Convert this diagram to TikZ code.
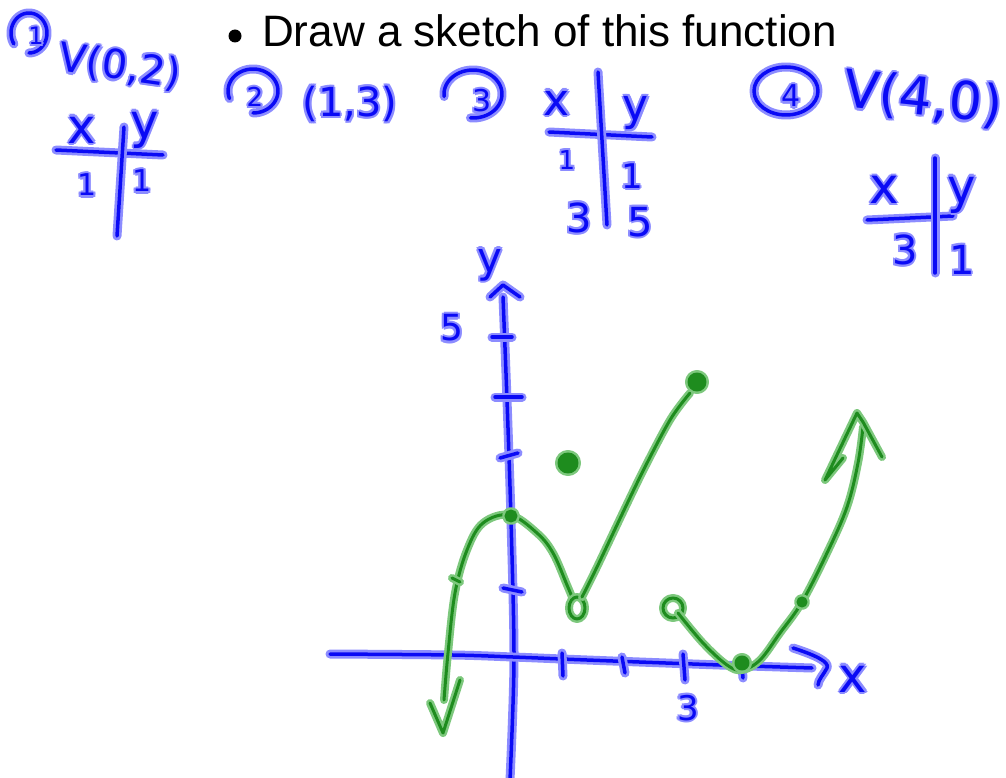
\documentclass[tikz,border=0pt]{standalone}
\usepackage{fontspec}
\setmainfont{Liberation Sans}
\newfontfamily\handfont{DejaVu Sans}
\definecolor{pblue}{RGB}{10,10,245}
\definecolor{hblue}{RGB}{140,140,255}
\definecolor{pgreen}{RGB}{30,140,30}
\definecolor{hgreen}{RGB}{125,200,125}
\newcommand{\halocopy}[3]{\rlap{\kern#1\raisebox{#2}{\color{hblue}#3}}}
\newcommand{\hw}[1]{\halocopy{2.2pt}{0pt}{#1}\halocopy{-2.2pt}{0pt}{#1}%
  \halocopy{0pt}{2.2pt}{#1}\halocopy{0pt}{-2.2pt}{#1}%
  \halocopy{1.6pt}{1.6pt}{#1}\halocopy{-1.6pt}{1.6pt}{#1}%
  \halocopy{1.6pt}{-1.6pt}{#1}\halocopy{-1.6pt}{-1.6pt}{#1}%
  {\color{pblue}#1}}
\begin{document}
\begin{tikzpicture}[x=1pt,y=-1pt,
  bpen/.style={draw=pblue, line width=3.5pt, line cap=round, line join=round,
    preaction={draw=hblue, line width=9pt, line cap=round, line join=round}},
  gpen/.style={draw=pgreen, line width=3pt, line cap=round, line join=round,
    preaction={draw=hgreen, line width=8pt, line cap=round, line join=round}},
  gdot/.style={gpen, fill=pgreen},
  hwt/.style={inner sep=0pt, font=\handfont\fontsize{#1}{#1}\selectfont}]
\useasboundingbox[fill=white] (0,0) rectangle (1006,778);

% title
\fill (235,36) circle[radius=6.5];
\node[anchor=base west, inner sep=0pt, font=\fontsize{44}{50}\selectfont] (title) at (262,47) {Draw a sketch of this function};

% item 1
\draw[bpen] plot[domain=147:450, samples=50, smooth] ({29+18*cos(\x)},{33+20*sin(\x)});
\node[hwt=24] (c1num) at (36,36) {\hw{1}};
\node[hwt=40, rotate=-8] (v02) at (120,67) {\hw{V(0,2)}};
\draw[bpen] (56,150) -- (163,155);
\draw[bpen] (124,127) -- (117,236);
\node[hwt=48] (t1x) at (82,130) {\hw{x}};
\node[hwt=48] (t1y) at (145,130) {\hw{y}};
\node[hwt=30] (t1a) at (87,185) {\hw{1}};
\node[hwt=30] (t1b) at (142,181) {\hw{1}};

% item 2
\draw[bpen] plot[domain=160:450, samples=50, smooth] ({253+25*cos(\x)},{91+22*sin(\x)});
\node[hwt=26] (c2num) at (255,97) {\hw{2}};
\node[hwt=40] (p13) at (350,104) {\hw{(1,3)}};

% item 3
\draw[bpen] plot[domain=174:455, samples=50, smooth] ({473+29*cos(\x)},{94+24*sin(\x)});
\node[hwt=30] (c3num) at (482,101) {\hw{3}};
\draw[bpen] (549,132) -- (652,137);
\draw[bpen] (598,72) -- (607,225);
\node[hwt=44] (t3x) at (557,103) {\hw{x}};
\node[hwt=44] (t3y) at (636,113) {\hw{y}};
\node[hwt=26] (t3a) at (567,160) {\hw{1}};
\node[hwt=34] (t3b) at (632,176) {\hw{1}};
\node[hwt=40] (t3c) at (579,218) {\hw{3}};
\node[hwt=40] (t3d) at (640,222) {\hw{5}};

% item 4
\draw[bpen] (786,91) ellipse[x radius=32, y radius=24];
\node[hwt=30] (c4num) at (791,96) {\hw{4}};
\node[hwt=52, rotate=-6] (v40) at (923,99) {\hw{V(4,0)}};
\draw[bpen] (867,220) -- (953,216);
\draw[bpen] (935,158) -- (935,273);
\node[hwt=50] (t4x) at (884,190) {\hw{x}};
\node[hwt=48] (t4y) at (962,195) {\hw{y}};
\node[hwt=40] (t4a) at (905,250) {\hw{3}};
\node[hwt=40] (t4b) at (962,260) {\hw{1}};

% axes
\draw[bpen] plot[smooth, tension=0.5] coordinates {(503,297) (507,400) (511,520) (514,660) (510,780)};
\draw[bpen] (490,297) -- (503,285) -- (520,297);
\draw[bpen] plot[smooth, tension=0.5] coordinates {(330,654) (453,655) (513,657) (587,660) (720,665) (812,668)};
\draw[bpen] (793,648) .. controls (815,655) and (830,662) .. (827,668) .. controls (824,674) and (818,680) .. (818,685);
% y ticks
\draw[bpen] (492,337) -- (512,337);
\draw[bpen] (495,397) -- (522,397);
\draw[bpen] (500,458) -- (518,453);
\draw[bpen] (503,588) -- (522,592);
% x ticks
\draw[bpen] (562,653) -- (563,676);
\draw[bpen] (622,657) -- (625,673);
\draw[bpen] (683,654) -- (685,680);
\draw[bpen] (742,666) -- (743,678);
\node[hwt=42] (ay) at (490,265) {\hw{y}};
\node[hwt=36] (a5) at (452,328) {\hw{5}};
\node[hwt=48] (ax) at (853,679) {\hw{x}};
\node[hwt=34] (a3) at (688,708) {\hw{3}};

% green graph: left parabola
\draw[gpen] plot[smooth, tension=0.6] coordinates {(444,700) (448,653) (455,593) (467,550) (483,523) (510,515) (537,533) (553,553) (567,585) (572,597)};
\draw[gpen] (430,703) -- (443,733) -- (460,680);
\draw[gpen] (452,578) -- (460,582);
\draw[gpen] (577,608) ellipse[x radius=8, y radius=11];
\draw[gpen] plot[smooth, tension=0.5] coordinates {(582,597) (597,567) (640,477) (670,420) (690,393)};
\draw[gdot] (697,382) circle[radius=8];
\draw[gdot] (568,463) circle[radius=9];
\draw[gdot] (511,516) circle[radius=5];

% right piece
\draw[gpen] (673,608) circle[radius=10];
\draw[gpen] plot[smooth, tension=0.6] coordinates {(678,613) (703,643) (727,665) (742,670) (760,660) (780,633) (802,602) (827,553) (847,507) (858,463) (863,427)};
\draw[gpen] (843,458) -- (825,480) -- (857,413) -- (863,422) -- (882,457);
\draw[gdot] (742,663) circle[radius=6];
\draw[gdot] (802,602) circle[radius=4];
\end{tikzpicture}
\end{document}
